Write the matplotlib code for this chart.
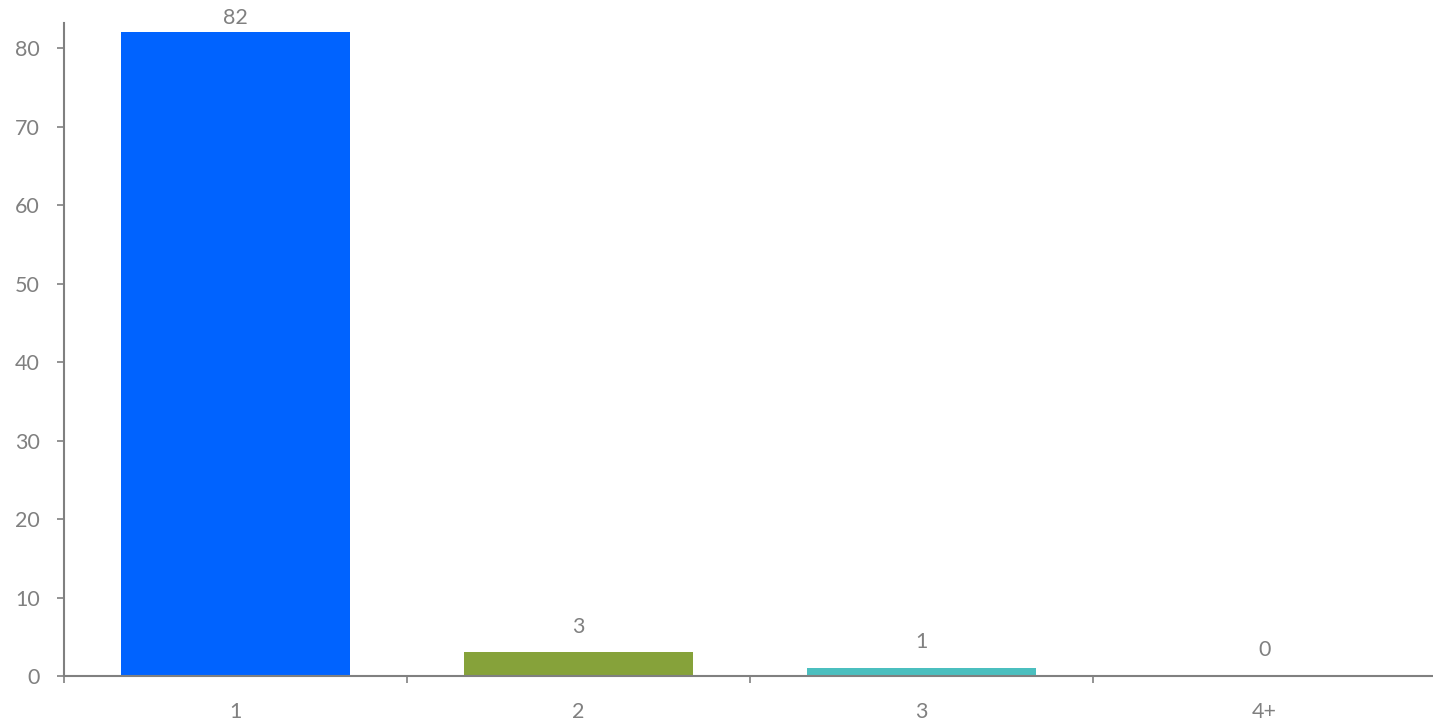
import matplotlib; matplotlib.use('Agg')
import matplotlib.pyplot as plt
import numpy as np

categories = ['1', '2', '3', '4+']
counts = [82, 3, 1, 0]
bar_colors = ['#0063FF', '#86A23A', '#4BBFBF', '#F28E2B']

GREY = '#808080'
plt.rcParams['font.family'] = ['Lato', 'DejaVu Sans']

fig = plt.figure(figsize=(14.33, 7.25), dpi=100)
ax = fig.add_axes([64/1433, 49/725, 1372/1433, 653/725])

x = np.arange(len(categories))
ax.bar(x, counts, width=0.667, color=bar_colors, zorder=2)

ax.set_xlim(-0.5, len(categories) - 0.5)
ax.set_ylim(0, 83.2)
ax.set_yticks(range(0, 81, 10))

for xi, v in zip(x, counts):
    ax.text(xi, min(v + 3.3, 83.8), str(v), ha='center', va='center',
            fontsize=15.5, color=GREY, clip_on=False)

for s in ['top', 'right']:
    ax.spines[s].set_visible(False)
for s in ['left', 'bottom']:
    ax.spines[s].set_color(GREY)
    ax.spines[s].set_linewidth(1.5)

ax.set_xticks(x)
ax.set_xticklabels(categories)
ax.set_xticks(np.arange(-0.5, len(categories), 1), minor=True)
ax.tick_params(axis='x', which='major', length=0, pad=19, labelsize=15.5, labelcolor=GREY)
ax.tick_params(axis='x', which='minor', length=5, width=1.2, color=GREY, direction='out')
ax.tick_params(axis='y', length=5, width=1.2, color=GREY, pad=12.5, labelsize=15.5, labelcolor=GREY)

fig.savefig('out.png', dpi=100, facecolor='white')
